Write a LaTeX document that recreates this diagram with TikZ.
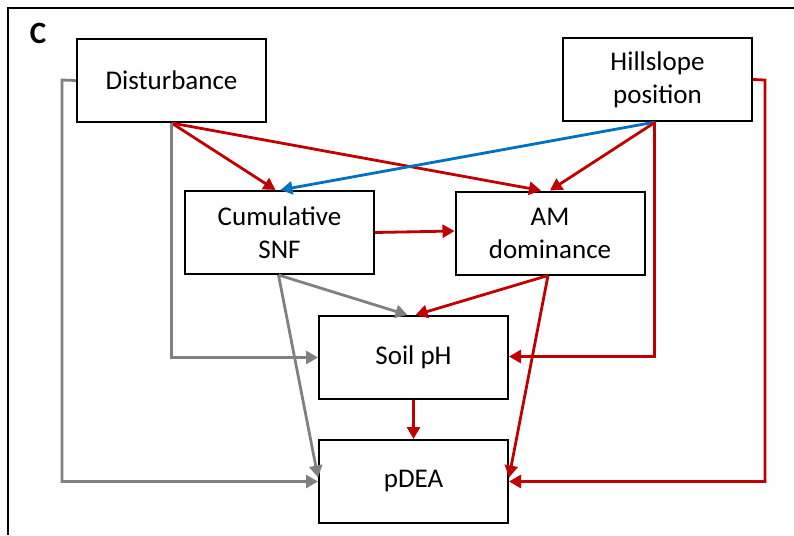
\documentclass[tikz,border=0pt]{standalone}
\usepackage{fontspec}
\setmainfont{Carlito}
\usetikzlibrary{arrows.meta,calc}
\definecolor{effred}{HTML}{C00000}
\definecolor{effblue}{HTML}{0070C0}
\definecolor{effgray}{HTML}{808080}
\begin{document}
\begin{tikzpicture}[x=1pt,y=-1pt,
  var/.style={draw=black,line width=2pt,minimum width=189pt,minimum height=83pt,
    align=center,font=\fontsize{27}{33}\selectfont,inner sep=0pt},
  link/.style={line width=2.8pt,-{Triangle[length=12pt,width=13pt]}},
  poslink/.style={link,draw=effred},
  neglink/.style={link,draw=effblue},
  nslink/.style={link,draw=effgray}]
\useasboundingbox (0,0) rectangle (794,535);
% panel frame, open to the right and bottom
\draw[line width=2pt] (8,535) -- (8,8) -- (794,8);
\node[font=\fontsize{31}{31}\selectfont\bfseries] (lab) at (38,33) {C};

\node[var] (dist) at (171.5,80.5) {Disturbance};
\node[var] (hill) at (657.5,79.5) {Hillslope\\position};
\node[var] (snf)  at (279.5,232.5) {Cumulative\\SNF};
\node[var] (am)   at (550,233) {AM\\dominance};
\node[var] (ph)   at (413.5,357.5) {Soil pH};
\node[var] (pdea) at (413.5,481.5) {pDEA};

\coordinate (dleft) at (62,80);
\coordinate (hright) at (765,80);

% disturbance effects
\draw[poslink] (dist.south) -- ($(snf.north)+(-4,0)$);
\draw[poslink] (dist.south) -- ($(am.north)+(-9,0)$);
\draw[nslink] (dist.south) |- (ph.west);
\draw[nslink] (dist.west) -- (dleft) |- (pdea.west);

% hillslope effects
\draw[neglink] ($(hill.south)+(-2,0)$) -- ($(snf.north)+(1,0)$);
\draw[poslink] ($(hill.south)+(-2,0)$) -- (am.north);
\draw[poslink] ($(hill.south)+(-3,0)$) |- ($(ph.east)+(0,-1)$);
\draw[poslink] (hill.east) -- (hright) |- (pdea.east);

% mediators
\draw[poslink] (snf.east) -- ($(am.west)+(0,-2)$);
\draw[nslink] ($(snf.south)+(-1,0)$) -- ($(ph.north)+(-6,0)$);
\draw[nslink] ($(snf.south)+(-1,0)$) -- ($(pdea.west)+(0,-4)$);
\draw[poslink] ($(am.south)+(-2,0)$) -- ($(ph.north)+(2,0)$);
\draw[poslink] ($(am.south)+(-2,0)$) -- ($(pdea.east)+(0,-4)$);
\draw[poslink] (ph.south) -- (pdea.north);
\end{tikzpicture}
\end{document}
